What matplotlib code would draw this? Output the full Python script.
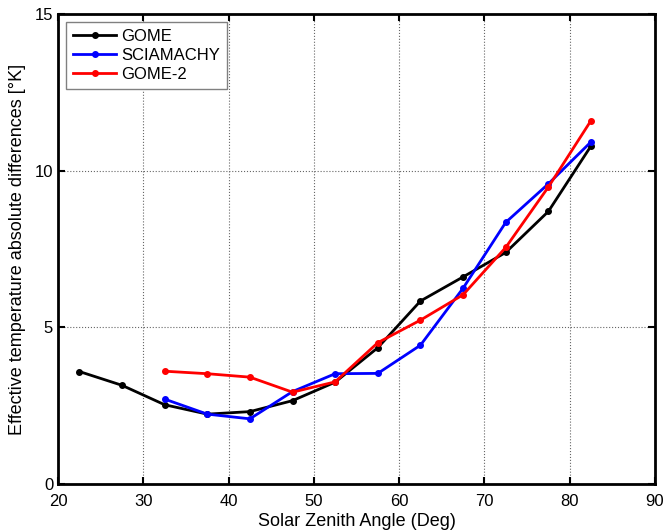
import matplotlib
matplotlib.use("Agg")
import matplotlib.pyplot as plt

plt.rcParams['font.family'] = ['Liberation Sans', 'DejaVu Sans']

sza = [22.5, 27.5, 32.5, 37.5, 42.5, 47.5, 52.5, 57.5, 62.5, 67.5, 72.5, 77.5, 82.5]
gome = [3.59, 3.15, 2.53, 2.23, 2.31, 2.66, 3.25, 4.35, 5.84, 6.61, 7.39, 8.70, 10.79]
sza_sci = [32.5, 37.5, 42.5, 47.5, 52.5, 57.5, 62.5, 67.5, 72.5, 77.5, 82.5]
sciamachy = [2.71, 2.23, 2.08, 2.95, 3.52, 3.53, 4.43, 6.25, 8.35, 9.58, 10.92]
sza_g2 = [32.5, 37.5, 42.5, 47.5, 52.5, 57.5, 62.5, 67.5, 72.5, 77.5, 82.5]
gome2 = [3.60, 3.52, 3.41, 2.93, 3.26, 4.51, 5.23, 6.04, 7.55, 9.48, 11.6]

xticks = [20, 30, 40, 50, 60, 70, 80, 90]
yticks = [0, 5, 10, 15]

W, H = 663, 532
fig = plt.figure(figsize=(W / 100, H / 100), dpi=100)
ax = fig.add_axes([58 / W, (H - 484) / H, (655 - 58) / W, (484 - 14) / H])

ax.plot(sza, gome, color='black', marker='.', markersize=8, linewidth=2, label='GOME')
ax.plot(sza_sci, sciamachy, color='blue', marker='.', markersize=8, linewidth=2, label='SCIAMACHY')
ax.plot(sza_g2, gome2, color='red', marker='.', markersize=8, linewidth=2, label='GOME-2')

ax.set_xlim(20, 90)
ax.set_ylim(0, 15)
ax.set_xticks(xticks)
ax.set_yticks(yticks)
ax.grid(True, linestyle=':', color='#666666', linewidth=0.8)
ax.tick_params(direction='in', length=5, width=1.5, labelsize=12, top=True, right=True)
ax.tick_params(axis='x', pad=7)
for s in ax.spines.values():
    s.set_linewidth(2)

ax.set_xlabel('Solar Zenith Angle (Deg)', fontsize=13, labelpad=3)
ax.set_ylabel('Effective temperature absolute differences [°K]', fontsize=13, labelpad=6)

leg = ax.legend(loc='upper left', fontsize=12, fancybox=False, framealpha=1,
                edgecolor='#808080', borderaxespad=0.5, handlelength=2.6,
                handletextpad=0.3, labelspacing=0.25, borderpad=0.4)
leg.get_frame().set_linewidth(1)

fig.savefig('out.png', dpi=100)
